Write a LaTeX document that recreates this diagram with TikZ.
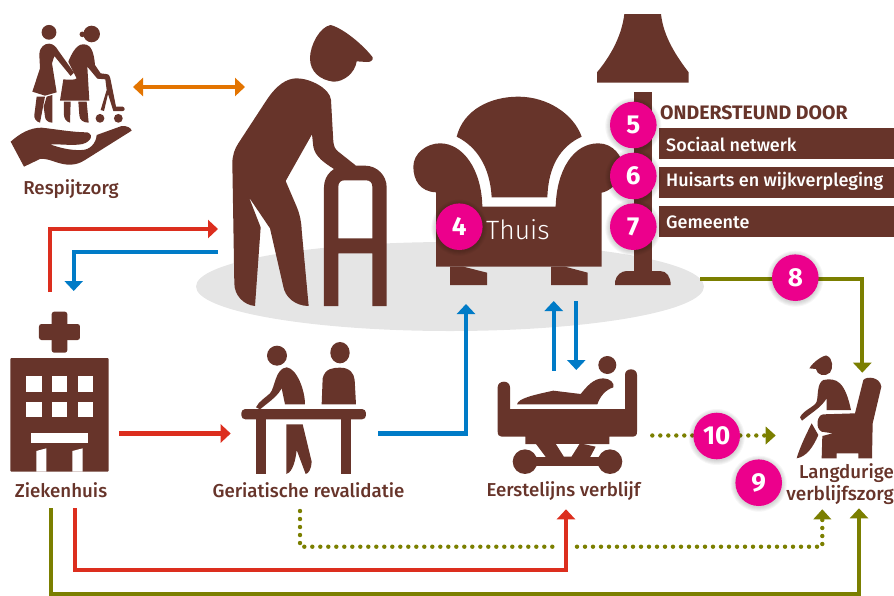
\documentclass[tikz,border=0pt]{standalone}
\usepackage{fontspec}
\setmainfont{Fira Sans}
\newfontfamily\medf{Fira Sans Medium}
\newfontfamily\lightf{Fira Sans Light}
\usetikzlibrary{arrows.meta,calc}
\definecolor{brn}{HTML}{67342A}
\definecolor{pnk}{HTML}{EC008C}
\definecolor{rd}{HTML}{DC2E1E}
\definecolor{blu}{HTML}{007BC7}
\definecolor{olv}{HTML}{7B7F00}
\definecolor{org}{HTML}{E37400}
\definecolor{gry}{HTML}{E5E5E5}
\tikzset{
  zA/.style={x=.33333pt,y=-.33333pt},
  zB/.style={shift={(400pt,0pt)},x=.33333pt,y=-.33333pt},
  zC/.style={shift={(0pt,-300pt)},x=.33333pt,y=-.33333pt},
  zD/.style={shift={(450pt,-300pt)},x=.33333pt,y=-.33333pt},
  ico/.style={fill=brn},
  wht/.style={fill=white},
  conn/.style={line width=4.2pt,-{Triangle[length=10pt,width=18pt]}},
  dots/.style={line width=4.4pt,line cap=round,dash pattern=on 0pt off 8pt,color=olv},
  lab/.style={font=\fontsize{18.7}{20}\selectfont\medf,text=brn,inner sep=0pt},
  boxt/.style={font=\fontsize{18}{20}\selectfont\medf,text=white,inner sep=0pt,anchor=west},
  num/.style={circle,fill=pnk,minimum size=46.6pt,inner sep=0pt,text=white,font=\fontsize{26}{28}\selectfont\bfseries},
}
\newcommand{\numc}[4]{%
  \foreach \rr in {28,27,26,25,24}{\fill[black,fill opacity=.035] (#2,#3+1) circle[radius=\rr pt];}
  \node[num] (#1) at (#2,#3) {#4};}
\begin{document}
\begin{tikzpicture}[x=1pt,y=-1pt]
\useasboundingbox (0,0) rectangle (894,595);
\fill[gry] (450,286.5) ellipse[x radius=254pt,y radius=44.5pt];

% ---- respite icon
\begin{scope}[zA]
\fill[ico] (147,97) circle[radius=7.4pt];
\fill[ico] (118,165) .. controls (118,140) and (135,130) .. (148,131) .. controls (160,132) and (168,140) .. (175,152) -- (222,218) -- (212,228) -- (163,168) -- (156,190) -- (170,277) -- (135,287) -- (97,275) -- (120,205) -- cycle;
\fill[ico] (110,290) -- (135,290) -- (120,368) .. controls (108,365) and (102,355) .. (103,345) -- cycle;
\fill[ico] (140,290) -- (157,285) -- (157,368) .. controls (145,368) and (135,360) .. (135,350) -- (131,320) -- cycle;
\fill[ico] (275,102) circle[radius=8.3pt];
\fill[ico] (247,103) circle[radius=2.8pt];
\fill[ico] (205,185) .. controls (215,160) and (230,132) .. (250,133) .. controls (275,132) and (282,160) .. (285,195) -- (302,220) -- (318,222) .. controls (328,222) and (330,230) .. (332,240) -- (348,320) -- (368,320) .. controls (376,322) and (376,333) .. (368,333) -- (340,333) -- (324,282) -- (312,333) -- (302,330) -- (320,270) -- (316,238) -- (292,236) -- (262,200) -- (268,302) -- (180,302) -- (190,238) .. controls (210,240) and (225,240) .. (230,235) .. controls (225,225) and (215,205) .. (205,185) -- cycle;
\fill[ico] (192,305) -- (212,305) -- (210,368) .. controls (198,365) and (192,355) .. (192,345) -- cycle;
\fill[ico] (235,305) -- (260,305) -- (266,368) .. controls (250,368) and (238,360) .. (238,345) -- cycle;
\fill[ico] (300,355) circle[radius=4.4pt];
\fill[ico] (355,355) circle[radius=4.4pt];
\fill[ico] (32,425) .. controls (60,400) and (90,383) .. (125,383) .. controls (170,388) and (220,397) .. (262,397) .. controls (285,405) and (270,432) .. (235,434) .. controls (205,436) and (175,432) .. (150,433) .. controls (175,442) and (210,452) .. (245,450) .. controls (270,450) and (288,430) .. (290,405) -- (365,378) .. controls (380,376) and (395,385) .. (395,392) -- (255,480) .. controls (225,500) and (195,495) .. (170,487) .. controls (150,480) and (135,475) .. (120,477) -- (72,500) -- cycle;
\end{scope}
\node[lab] (respijt) at (71,189) {Respijtzorg};

% ---- man with walker
\begin{scope}[zA]
\fill[ico] (992,75) .. controls (1030,85) and (1090,135) .. (1118,172) .. controls (1120,182) and (1110,187) .. (1100,186) -- (1070,184) .. controls (1065,220) and (1030,246) .. (1000,245) .. controls (960,240) and (930,215) .. (930,175) .. controls (930,135) and (960,80) .. (992,75) -- cycle;
\fill[ico] (890,235) .. controls (930,235) and (990,265) .. (993,300) -- (1000,425) .. controls (1002,440) and (1005,447) .. (1015,455) -- (1068,497) -- (1040,500) -- (1002,507) .. controls (975,490) and (945,470) .. (940,440) -- (936,403) -- (857,543) -- (890,620) .. controls (900,645) and (904,665) .. (905,690) -- (926,918) .. controls (885,918) and (855,890) .. (850,860) -- (810,685) -- (747,592) -- (782,682) -- (765,918) .. controls (730,915) and (703,885) .. (703,850) -- (697,490) .. controls (697,465) and (705,445) .. (715,430) -- (800,300) .. controls (830,255) and (860,235) .. (890,235) -- cycle;
\fill[ico,even odd rule] (972,918) -- (972,562) .. controls (972,525) and (1000,497) .. (1040,497) -- (1095,497) .. controls (1130,497) and (1160,525) .. (1160,562) -- (1160,918) -- (1117,918) -- (1117,760) -- (1015,760) -- (1015,918) -- cycle
 (1015,715) -- (1015,560) .. controls (1015,548) and (1022,541) .. (1033,541) -- (1098,541) .. controls (1110,541) and (1117,548) .. (1117,560) -- (1117,715) -- cycle;
\end{scope}

% ---- armchair and lamp
\begin{scope}[zB]
\fill[ico] (170,410) .. controls (190,330) and (270,290) .. (355,290) .. controls (440,290) and (520,340) .. (545,410) .. controls (480,440) and (445,500) .. (442,592) -- (275,592) .. controls (270,500) and (230,440) .. (170,410) -- cycle;
\fill[ico] (108,577) .. controls (60,575) and (40,540) .. (40,500) .. controls (40,460) and (80,430) .. (120,430) .. controls (190,430) and (245,510) .. (247,620) -- (467,620) .. controls (470,510) and (520,430) .. (595,430) .. controls (640,430) and (668,470) .. (668,500) .. controls (665,550) and (625,575) .. (605,578) -- (605,800) -- (108,800) -- cycle;
\fill[ico] (150,800) -- (190,800) -- (261,818) -- (261,855) -- (150,855) -- cycle;
\fill[ico] (453,800) -- (495,800) -- (563,818) -- (563,855) -- (453,855) -- cycle;
\fill[ico] (673,42) -- (783,42) .. controls (790,110) and (830,170) .. (866,217) -- (866,248) -- (591,248) -- (591,217) .. controls (630,170) and (665,110) .. (673,42) -- cycle;
\fill[ico] (701,276) rectangle (756,815);
\fill[ico] (645,855) -- (645,845) .. controls (648,825) and (665,813) .. (680,813) -- (780,813) .. controls (800,813) and (812,830) .. (812,855) -- cycle;
\fill[ico] (777,384) rectangle (1485,476);
\fill[ico] (777,501) rectangle (1485,593);
\fill[ico] (777,618) rectangle (1485,711);
\end{scope}
\node[font=\fontsize{19.5}{20}\selectfont\bfseries,text=brn,inner sep=0pt,anchor=west] (steun) at (660,112.5) {ONDERSTEUND DOOR};
\node[boxt] (sociaal) at (666,144) {Sociaal netwerk};
\node[boxt] (huisarts) at (666,181.5) {Huisarts en wijkverpleging};
\node[boxt] (gemeente) at (666,222) {Gemeente};
\node[font=\fontsize{26.5}{30}\selectfont\lightf,text=white,inner sep=0pt,anchor=west] (thuis) at (486,230) {Thuis};

% ---- hospital
\begin{scope}[zC]
\fill[ico,rounded corners=2.5pt] (155,35) rectangle (202,158);
\fill[ico,rounded corners=2.5pt] (117,72) rectangle (240,120);
\fill[ico,rounded corners=1pt] (31,174) rectangle (326,515);
\foreach \xx in {78,155,233}{\foreach \yy in {228,305}{\fill[wht] (\xx,\yy) rectangle (\xx+47,\yy+47);}}
\fill[wht] (93,398) rectangle (264,430);
\fill[wht] (109,515) -- (109,453) -- (139,445) -- (139,515) -- cycle;
\fill[wht] (217,515) -- (217,453) -- (248,445) -- (248,515) -- cycle;
\end{scope}
\node[lab] (zkh) at (61,490) {Ziekenhuis};

% ---- rehabilitation
\begin{scope}[zC]
\fill[ico,rounded corners=4pt] (724,327) rectangle (1098,358);
\fill[ico] (769,350) rectangle (799,522);
\fill[ico] (1023,350) rectangle (1053,522);
\fill[ico] (831,167) circle[radius=10pt];
\fill[ico] (860,202) .. controls (890,205) and (915,270) .. (915,313) -- (855,313) -- (845,265) .. controls (835,285) and (815,300) .. (800,312) -- (780,328) -- (768,322) .. controls (775,305) and (800,290) .. (810,280) .. controls (825,265) and (825,205) .. (860,202) -- cycle;
\fill[ico] (859,373) -- (908,373) -- (935,485) .. controls (935,505) and (925,522) .. (917,522) -- (890,450) .. controls (885,500) and (870,520) .. (859,522) -- cycle;
\fill[ico] (1020,158) ellipse[x radius=9.7pt,y radius=10.7pt];
\fill[ico] (965,313) -- (968,235) .. controls (975,205) and (1000,203) .. (1020,203) .. controls (1050,203) and (1062,220) .. (1064,240) -- (1068,313) -- cycle;
\end{scope}
\node[lab] (ger) at (308.5,490) {Geriatische revalidatie};

% ---- bed
\begin{scope}[zD]
\fill[ico] (143,262) -- (143,395) .. controls (143,405) and (148,410) .. (155,410) -- (226,410) -- (226,432) -- (478,432) -- (478,410) -- (550,410) .. controls (557,410) and (561,405) .. (561,395) -- (561,225) .. controls (561,214) and (553,208) .. (543,208) .. controls (533,208) and (525,214) .. (525,225) -- (525,327) -- (180,327) -- (180,262) .. controls (180,252) and (172,245) .. (162,245) .. controls (151,245) and (143,252) .. (143,262) -- cycle;
\fill[ico] (225,485) circle[radius=12.3pt];
\fill[ico] (480,485) circle[radius=12.3pt];
\fill[ico] (225,470) rectangle (480,498);
\fill[ico] (258,432) -- (288,472) -- (420,472) -- (437,440) -- (400,432) -- cycle;
\fill[wht] (318,432) -- (388,432) -- (364,470) -- (342,470) -- cycle;
\fill[ico] (472,195) circle[radius=9pt];
\fill[ico] (201,313) .. controls (205,295) and (250,285) .. (310,272) -- (392,282) .. controls (410,260) and (430,235) .. (460,235) .. controls (480,235) and (495,250) .. (490,262) .. controls (465,270) and (450,290) .. (442,313) -- cycle;
\end{scope}
\node[lab] (eerst) at (563.5,491) {Eerstelijns verblijf};

% ---- seated person
\begin{scope}[zD]
\fill[ico] (1078,205) .. controls (1090,185) and (1120,165) .. (1130,167) .. controls (1150,175) and (1150,205) .. (1140,218) .. controls (1125,232) and (1100,225) .. (1098,207) -- cycle;
\fill[ico] (1120,240) .. controls (1160,232) and (1185,245) .. (1203,330) -- (1130,330) -- (1130,295) .. controls (1115,320) and (1090,335) .. (1075,347) -- (1056,362) -- (1050,352) .. controls (1060,330) and (1095,320) .. (1100,305) .. controls (1105,290) and (1100,250) .. (1120,240) -- cycle;
\fill[ico] (1085,370) -- (1105,405) .. controls (1090,440) and (1070,470) .. (1040,475) .. controls (1050,440) and (1070,400) .. (1085,370) -- cycle;
\fill[ico] (1240,240) .. controls (1250,228) and (1290,230) .. (1294,260) -- (1268,370) -- (1266,475) -- (1225,475) -- (1225,460) -- (1160,460) -- (1160,475) -- (1115,475) -- (1117,408) -- (1148,400) -- (1115,395) .. controls (1095,385) and (1100,345) .. (1120,343) -- (1215,340) -- cycle;
\end{scope}
\node[lab,anchor=east] (lang) at (894,473) {Langdurige};
\node[lab,font=\fontsize{19}{20}\selectfont\medf,anchor=east] (verbl) at (894,495) {verblijfszorg};

% ---- connector end points
\coordinate (respR) at (133,87);
\coordinate (manL) at (245,87);
\coordinate (zU) at (50,292);
\coordinate (zUb) at (50,229);
\coordinate (manR) at (218,229);
\coordinate (manB) at (217.5,252);
\coordinate (zBc) at (73.7,252);
\coordinate (zBt) at (73.7,291);
\coordinate (zR) at (119,433.5);
\coordinate (gL) at (230.7,433.5);
\coordinate (gR) at (378,433.5);
\coordinate (tC) at (466,433.5);
\coordinate (tT) at (466,304);
\coordinate (hU) at (553.7,301);
\coordinate (bU) at (553.7,370.7);
\coordinate (hD) at (576.3,301);
\coordinate (bD) at (576.3,370);
\coordinate (lampR) at (700,279);
\coordinate (c8) at (862.3,279);
\coordinate (t8) at (862.3,372.7);
\coordinate (d10a) at (652.3,435.5);
\coordinate (d10b) at (775.7,435.5);
\coordinate (dGa) at (300,511);
\coordinate (dGb) at (300,546.7);
\coordinate (dGc) at (555.7,546.7);
\coordinate (dGd) at (577,546.7);
\coordinate (dGe) at (822.3,546.7);
\coordinate (dGt) at (822.3,509.3);
\coordinate (rA) at (75,508.3);
\coordinate (rB) at (75,570);
\coordinate (rC) at (566,570);
\coordinate (rT) at (566,509.3);
\coordinate (oA) at (51,508.3);
\coordinate (oB) at (51,593.7);
\coordinate (oC) at (859,593.7);
\coordinate (oT) at (859,508.3);

% ---- connectors
\draw[conn,org,{Triangle[length=10pt,width=18pt]}-{Triangle[length=10pt,width=18pt]}] (respR) -- (manL);
\draw[conn,rd] (zU) -- (zUb) -- (manR);
\draw[conn,blu] (manB) -- (zBc) -- (zBt);
\draw[conn,rd] (zR) -- (gL);
\draw[conn,blu] (gR) -- (tC) -- (tT);
\draw[conn,blu] (bU) -- (hU);
\draw[conn,blu] (hD) -- (bD);
\draw[conn,olv] (lampR) -- (c8) -- (t8);
\draw[conn,rd] (rA) -- (rB) -- (rC) -- (rT);
\draw[conn,olv] (oA) -- (oB) -- (oC) -- (oT);
\draw[dots] (d10a) -- ($(d10b)+(-9,0)$);
\fill[olv] (d10b) -- ++(-10,-9) -- ++(0,18) -- cycle;
\draw[dots] (dGa) -- (dGb) -- (dGc);
\draw[dots] (dGd) -- (dGe) -- ($(dGt)+(0,10)$);
\fill[olv] (dGt) -- ++(-9,10) -- ++(18,0) -- cycle;

% ---- number badges
\numc{n4}{459.3}{226.7}{4}
\numc{n5}{633.3}{125}{5}
\numc{n6}{633.3}{176}{6}
\numc{n7}{633.3}{226.7}{7}
\numc{n8}{795.3}{277.7}{8}
\numc{n10}{716.7}{436}{10}
\numc{n9}{758.7}{482.7}{9}
\end{tikzpicture}
\end{document}
